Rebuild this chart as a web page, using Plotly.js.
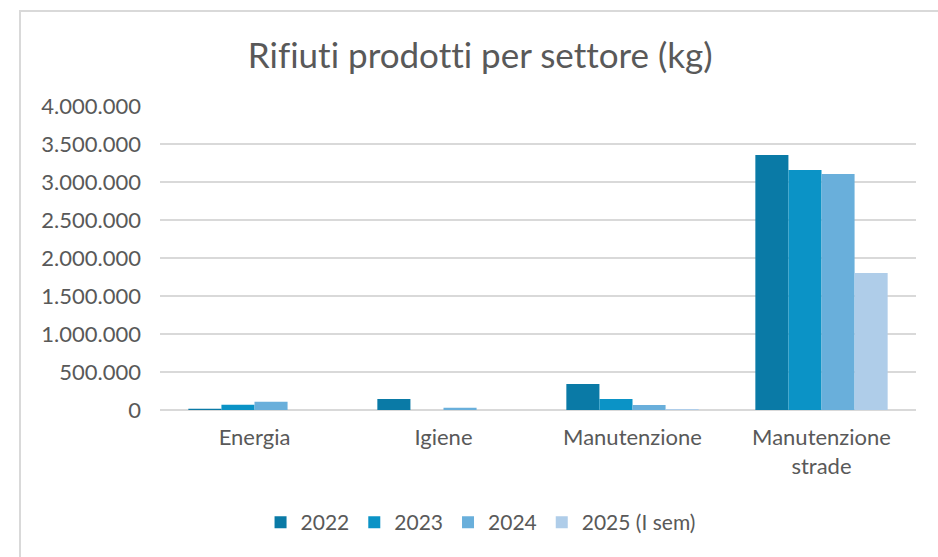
<!DOCTYPE html>
<html>
<head>
<meta charset="utf-8">
<script src="https://cdn.plot.ly/plotly-3.0.1.min.js"></script>
<style>
html,body{margin:0;padding:0;background:#fff;}
#wrap{position:relative;width:938px;height:557px;}
#frame{position:absolute;left:19px;top:10px;right:-2px;bottom:-2px;border-left:2px solid #d9d9d9;border-top:2px solid #d9d9d9;pointer-events:none;}
#chart{position:absolute;left:0;top:0;width:938px;height:557px;}
#chart text{font-variant-ligatures:none;font-feature-settings:"liga" 0;}
</style>
</head>
<body>
<div id="wrap"><div id="chart"></div><div id="frame"></div></div>
<script>
const categories = ["Energia", "Igiene", "Manutenzione", "Manutenzione<br>strade"];
const seriesNames = ["2022", "2023", "2024", "2025 (I sem)"];
const v2022 = [17000, 145000, 342000, 3355000];
const v2023 = [70000, 0, 145000, 3158000];
const v2024 = [108000, 30000, 66000, 3105000];
const v2025 = [0, 0, 13000, 1803000];
const colors = ["#0A7AA6", "#0B93C6", "#69AFDB", "#AFCDE9"];
const yTicks = [0, 500000, 1000000, 1500000, 2000000, 2500000, 3000000, 3500000, 4000000];

const seriesValues = [v2022, v2023, v2024, v2025];
const traces = seriesValues.map((vals, i) => ({
  type: "bar",
  name: seriesNames[i],
  x: categories,
  y: vals,
  marker: {color: colors[i]},
  hoverinfo: "none"
}));

const font = "Lato, 'Open Sans', sans-serif";
const layout = {
  width: 938, height: 557,
  margin: {l: 160, r: 22, t: 106, b: 147},
  paper_bgcolor: "rgba(0,0,0,0)",
  plot_bgcolor: "rgba(0,0,0,0)",
  separators: ",.",
  barmode: "group",
  bargap: 0.3,
  bargroupgap: 0,
  font: {family: font, color: "#595959", size: 22},
  title: {text: "Rifiuti prodotti per settore (kg)", font: {family: font, size: 35, color: "#595959"}, x: 0.512, xanchor: "center", y: 0.9, yanchor: "middle"},
  xaxis: {
    showgrid: false, showline: false, zeroline: false, ticks: "",
    tickfont: {size: 22, color: "#595959"},
    ticklabelstandoff: 12,
    fixedrange: true
  },
  yaxis: {
    range: [0, 4000000],
    tickvals: yTicks,
    tickformat: ",d",
    showgrid: true, gridcolor: "#d9d9d9", gridwidth: 1.5,
    zeroline: true, zerolinecolor: "#d9d9d9", zerolinewidth: 2,
    showline: false, ticks: "",
    ticklabelstandoff: 18,
    tickfont: {size: 22, color: "#595959"},
    fixedrange: true
  },
  showlegend: true,
  legend: {
    orientation: "h",
    x: 0.133, xanchor: "left",
    y: -0.37, yanchor: "middle",
    font: {size: 21, color: "#595959"},
    itemwidth: 20,
    tracegroupgap: 0,
    traceorder: "normal"
  }
};

Plotly.newPlot("chart", traces, layout, {displayModeBar: false, staticPlot: true});
</script>
</body>
</html>
